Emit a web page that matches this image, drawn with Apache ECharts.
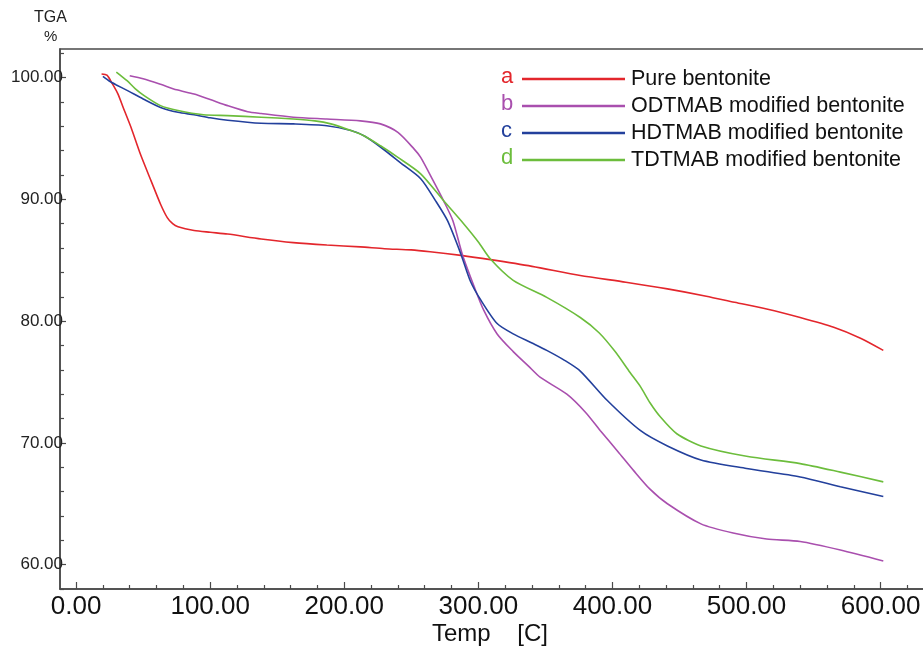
<!DOCTYPE html>
<html>
<head>
<meta charset="utf-8">
<script src="https://cdn.jsdelivr.net/npm/echarts@6/dist/echarts.min.js"></script>
<style>
  html, body { margin: 0; padding: 0; background: #fff; }
  #chart { width: 923px; height: 654px; }
</style>
</head>
<body>
<div id="chart"></div>
<script>
// TGA weight loss curves, [temperature (C), weight %]
const pureBentonite = [
  [19,100.3],[23,100.2],[27,99.5],[31,98.7],[36,97.3],[41,95.9],[48,93.7],[56,91.5],
  [63,89.6],[68,88.5],[72,88.0],[76,87.75],[88,87.45],[100,87.3],[113,87.15],[138,86.75],
  [162,86.45],[187,86.25],[212,86.1],[230,85.95],[250,85.85],[264,85.7],[287,85.4],
  [309,85.05],[340,84.5],[376,83.75],[410,83.2],[441,82.65],[470,82.05],[491,81.55],
  [515,81.0],[540,80.3],[565,79.5],[585,78.6],[602,77.6]
];
const odtmabBentonite = [
  [40,100.15],[50,99.9],[63,99.45],[75,99.0],[88,98.65],[100,98.2],[113,97.7],[128,97.2],
  [138,97.05],[162,96.75],[187,96.6],[212,96.45],[227,96.2],[240,95.5],[252,94.15],
  [257,93.45],[266,91.6],[274,89.9],[281,88.25],[288,85.5],[297,82.8],[304,80.9],
  [314,78.95],[326,77.5],[337,76.35],[346,75.4],[366,74.0],[380,72.5],[391,71.0],
  [404,69.3],[416,67.7],[428,66.2],[441,65.0],[466,63.35],[490,62.6],[515,62.1],
  [540,61.9],[570,61.2],[602,60.3]
];
const hdtmabBentonite = [
  [20,100.1],[25,99.7],[30,99.4],[38,98.95],[50,98.25],[63,97.55],[76,97.15],[88,96.95],
  [100,96.7],[113,96.5],[138,96.25],[162,96.2],[187,96.05],[205,95.65],[215,95.2],
  [227,94.3],[242,93.0],[257,91.7],[268,89.9],[277,88.25],[287,85.5],[294,83.3],
  [302,81.7],[314,79.8],[326,78.95],[340,78.2],[351,77.6],[364,76.8],[376,75.9],
  [396,73.5],[421,71.0],[441,69.75],[466,68.6],[500,67.9],[540,67.2],[570,66.4],[602,65.6]
];
const tdtmabBentonite = [
  [30,100.45],[34,100.1],[38,99.75],[44,99.1],[51,98.5],[63,97.7],[76,97.3],[95,96.95],
  [113,96.88],[138,96.75],[162,96.6],[178,96.45],[190,96.2],[205,95.65],[215,95.2],
  [227,94.4],[240,93.45],[257,92.1],[274,89.9],[289,88.0],[300,86.5],[309,85.1],
  [326,83.35],[351,81.95],[376,80.3],[390,79.05],[402,77.5],[413,75.8],[421,74.6],
  [428,73.3],[436,72.1],[448,70.75],[466,69.75],[500,68.9],[540,68.3],[570,67.6],[602,66.8]
];

const seriesNames = ['Pure bentonite', 'ODTMAB modified bentonite', 'HDTMAB modified bentonite', 'TDTMAB modified bentonite'];
const seriesLetters = ['a', 'b', 'c', 'd'];
const seriesColors = ['#e3262c', '#a94fae', '#23409c', '#6cbd3c'];
const seriesData = [pureBentonite, odtmabBentonite, hdtmabBentonite, tdtmabBentonite];

// axis ticks
const xMajorTicks = [0, 100, 200, 300, 400, 500, 600];
const xMinorTicks = [20, 40, 60, 80, 120, 140, 160, 180, 220, 240, 260, 280, 320, 340, 360, 380, 420, 440, 460, 480, 520, 540, 560, 580, 620];
const yMajorTicks = [60, 70, 80, 90, 100];
const yMinorTicks = [58, 62, 64, 66, 68, 72, 74, 76, 78, 82, 84, 86, 88, 92, 94, 96, 98, 102];

const X_MIN = -12, X_MAX = 633.1, Y_MIN = 58, Y_MAX = 102.35;
const axisColor = '#4a4a4a';
const regular = '"Liberation Sans", Arial, sans-serif';

function xAxisDef(ticks, len, labels) {
  return {
    type: 'value', min: X_MIN, max: X_MAX, position: 'bottom',
    splitLine: { show: false },
    axisLine: { show: labels, onZero: false, lineStyle: { color: axisColor, width: 1.5 } },
    axisTick: { show: true, inside: true, length: len, customValues: ticks, lineStyle: { color: axisColor, width: 1.2 } },
    axisLabel: labels ? {
      customValues: ticks, margin: 5, color: '#111', fontFamily: regular, fontSize: 26,
      formatter: v => v.toFixed(2)
    } : { show: false }
  };
}
function yAxisDef(ticks, len, labels) {
  return {
    type: 'value', min: Y_MIN, max: Y_MAX, position: 'left',
    splitLine: { show: false },
    axisLine: { show: labels, onZero: false, lineStyle: { color: axisColor, width: 1.5 } },
    axisTick: { show: true, inside: true, length: len, customValues: ticks, lineStyle: { color: axisColor, width: 1.2 } },
    axisLabel: labels ? {
      customValues: ticks, margin: -3, color: '#222', fontFamily: regular, fontSize: 17,
      formatter: v => v.toFixed(2)
    } : { show: false }
  };
}

const chart = echarts.init(document.getElementById('chart'), null, { renderer: 'canvas' });

chart.setOption({
  animation: false,
  backgroundColor: '#fff',
  grid: {
    left: 60, top: 49, right: -2, bottom: 65, containLabel: false, outerBoundsMode: 'none',
    show: true, borderColor: axisColor, borderWidth: 1.5
  },
  xAxis: [xAxisDef(xMajorTicks, 7, true), xAxisDef(xMinorTicks, 4, false)],
  yAxis: [yAxisDef(yMajorTicks, 6, true), yAxisDef(yMinorTicks, 4, false)],
  legend: {
    orient: 'vertical', left: 522, top: 68, itemWidth: 103, itemHeight: 2.5, itemGap: 5,
    icon: 'rect', padding: 0,
    textStyle: { color: '#111', fontFamily: regular, fontSize: 21.5, padding: [0, 0, 0, 1] },
    data: seriesNames
  },
  graphic: seriesLetters.map((t, i) => ({
    type: 'text', left: 501, top: 66 + i * 27,
    style: { text: t, fill: seriesColors[i], font: '22px ' + regular }
  })).concat([
    { type: 'text', left: 34, top: 10, style: { text: 'TGA', fill: '#222', font: '16px ' + regular } },
    { type: 'text', left: 44, top: 29, style: { text: '%', fill: '#222', font: '15px ' + regular } },
    { type: 'text', left: 432, top: 622, style: { text: 'Temp    [C]', fill: '#111', font: '24px ' + regular } }
  ]),
  series: seriesData.map((d, i) => ({
    name: seriesNames[i], type: 'line', data: d,
    xAxisIndex: 0, yAxisIndex: 0,
    showSymbol: false, symbol: 'none', smooth: 0.25,
    color: seriesColors[i],
    lineStyle: { width: 1.6, color: seriesColors[i] }
  }))
});
</script>
</body>
</html>
